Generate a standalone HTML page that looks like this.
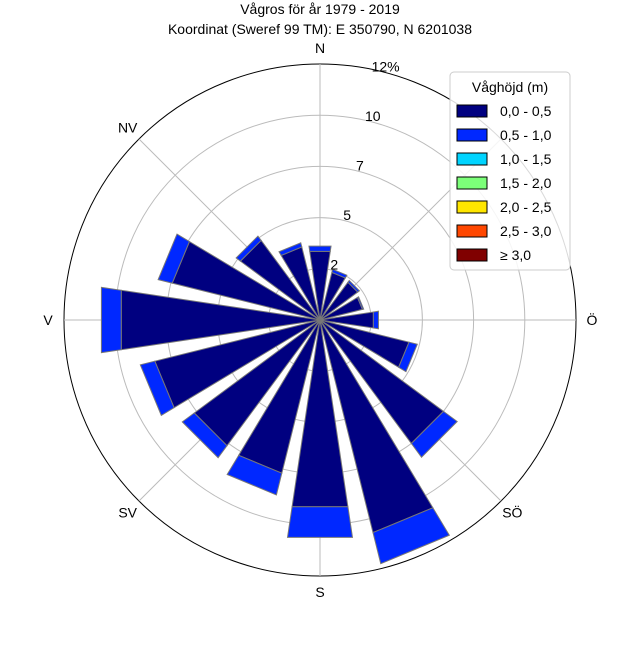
<!DOCTYPE html>
<html><head><meta charset="utf-8"><style>
body{margin:0;background:#fff;font-family:"Liberation Sans",sans-serif}
svg text{font-family:"Liberation Sans",sans-serif}
</style></head><body>
<svg id="c" width="640" height="640" viewBox="0 0 640 640" xmlns="http://www.w3.org/2000/svg">
<text x="320" y="14" text-anchor="middle" font-size="14">Vågros för år 1979 - 2019</text>
<text x="320" y="34" text-anchor="middle" font-size="14">Koordinat (Sweref 99 TM): E 350790, N 6201038</text>
<g id="grid"></g>
<g id="bars"></g>
<g id="labels"></g>
<g id="legend"></g>
</svg>
<script>
const directions=["N","NNO","NO","ONO","Ö","OSO","SO","SSO","S","SSV","SV","VSV","V","VNV","NV","NNV"];
const band0=[3.25,2.3,2.2,2.05,2.53,4.3,7.2,10.27,8.85,7.4,7.33,7.98,9.42,7.14,4.64,3.53];
const band1=[0.25,0.15,0.1,0.06,0.24,0.4,0.8,1.5,1.45,1.05,0.7,0.7,0.94,0.68,0.25,0.2];
const rTicks=[2.4,4.8,7.2,9.6,12];
const rTickLabels=["2","5","7","10","12%"];
const compass=["N","NV","V","SV","S","SÖ","Ö"];
const compassAngles=[0,315,270,225,180,135,90];
const legendLabels=["0,0 - 0,5","0,5 - 1,0","1,0 - 1,5","1,5 - 2,0","2,0 - 2,5","2,5 - 3,0","≥ 3,0"];
const legendColors=["#000080","#0028ff","#00d4ff","#7cff79","#ffe600","#ff4700","#800000"];
const NS="http://www.w3.org/2000/svg",cx=320,cy=320,R=256,rMax=12;
function rs(v){return v/rMax*R;}
function pt(deg,r){const a=deg*Math.PI/180;return [cx+r*Math.sin(a),cy-r*Math.cos(a)];}
function mk(t,at,p){const e=document.createElementNS(NS,t);for(const k in at)e.setAttribute(k,at[k]);p.appendChild(e);return e;}
const grid=document.getElementById('grid');
rTicks.forEach((t,i)=>{const c=mk('circle',{cx:cx,cy:cy,r:rs(t),fill:'none',stroke:i==rTicks.length-1?'#000':'#bbb','stroke-width':1},grid);
});
for(let k=0;k<8;k++){const p=pt(k*45,R);const l=mk('line',{x1:cx,y1:cy,x2:p[0],y2:p[1],stroke:'#bbb','stroke-width':1},grid);
}
const bars=document.getElementById('bars');const hw=8.5;
function wedge(deg,r0,r1,fill,name){const a=pt(deg-hw,r0),b=pt(deg+hw,r0),c=pt(deg+hw,r1),d=pt(deg-hw,r1);
const p=mk('polygon',{points:[a,b,c,d].map(q=>q.join(',')).join(' '),fill:fill,stroke:'#777','stroke-width':1},bars);
}
directions.forEach((d,i)=>{const deg=i*22.5;
wedge(deg,0,rs(band0[i]),legendColors[0],'bar-'+d+'-0-0.5');
wedge(deg,rs(band0[i]),rs(band0[i]+band1[i]),legendColors[1],'bar-'+d+'-0.5-1.0');});
const lab=document.getElementById('labels');
compass.forEach((c,i)=>{const p=pt(compassAngles[i],272);const t=mk('text',{x:p[0],y:p[1]+5,'text-anchor':'middle','font-size':14},lab);t.textContent=c;
});
rTicks.forEach((t,i)=>{const p=pt(14.5,rs(t)+6);const e=mk('text',{x:p[0],y:p[1]+5,'text-anchor':'middle','font-size':14},lab);e.textContent=rTickLabels[i];
});
const lg=document.getElementById('legend');
const box=mk('rect',{x:450,y:72,width:120,height:198,rx:4,fill:'#fff','fill-opacity':0.85,stroke:'#ccc'},lg);

const lt=mk('text',{x:510,y:92,'text-anchor':'middle','font-size':14},lg);lt.textContent='Våghöjd (m)';

legendLabels.forEach((l,i)=>{const y=111+i*24;
const s=mk('rect',{x:457,y:y-6,width:30,height:12,fill:legendColors[i],stroke:'#000','stroke-width':1},lg);

const t=mk('text',{x:500,y:y+5,'font-size':14},lg);t.textContent=l;
});
</script>
</body></html>
